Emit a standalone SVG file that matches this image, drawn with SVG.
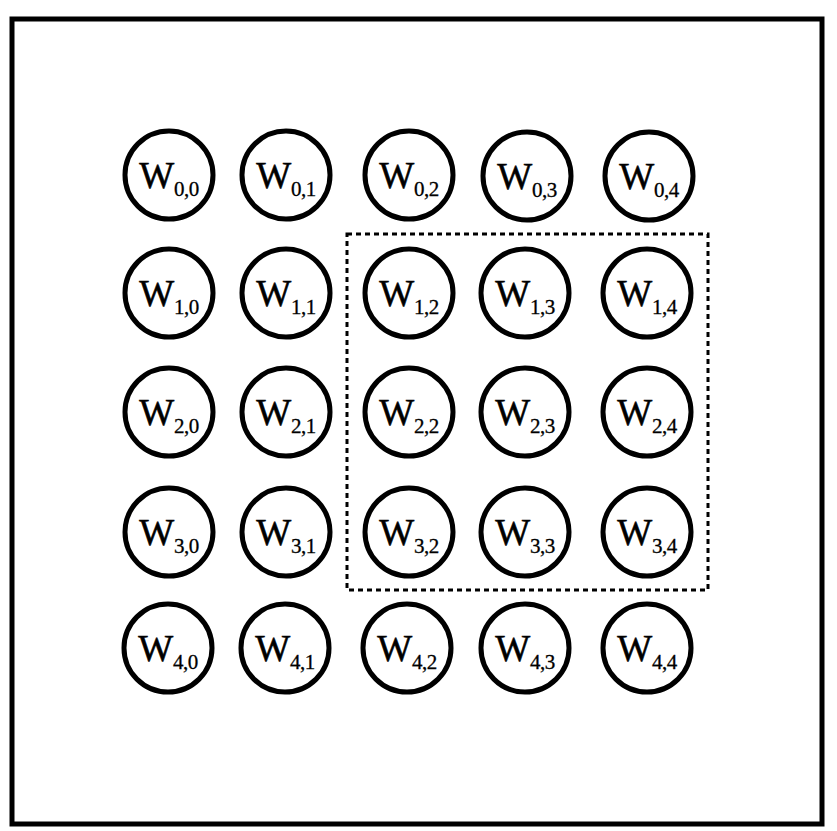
<svg xmlns="http://www.w3.org/2000/svg" width="837" height="831" viewBox="0 0 837 831">
<style>
.frame{fill:none;stroke:#000;stroke-width:5}
.sel{fill:none;stroke:#000;stroke-width:3;stroke-dasharray:5 4}
.node circle{fill:#fff;stroke:#000;stroke-width:5}
.node text{font-family:"Liberation Serif","Times New Roman",serif;font-size:37px;fill:#000;stroke:#000;stroke-width:0.6;text-anchor:middle}
.node tspan{font-size:21px;letter-spacing:-0.5px;stroke-width:0.3}
</style>
<rect width="837" height="831" fill="#fff"/>
<rect class="frame" x="12" y="19" width="810" height="805"/>
<g id="connectors"><rect class="sel" x="347" y="234" width="361" height="356"/></g>
<g id="n00" class="node"><circle cx="169" cy="175" r="44"/><text x="169" y="188">W<tspan dy="8">0,0</tspan></text></g>
<g id="n01" class="node"><circle cx="286" cy="175" r="44"/><text x="286" y="188">W<tspan dy="8">0,1</tspan></text></g>
<g id="n02" class="node"><circle cx="409" cy="175" r="44"/><text x="409" y="188">W<tspan dy="8">0,2</tspan></text></g>
<g id="n03" class="node"><circle cx="527" cy="176" r="44"/><text x="527" y="189">W<tspan dy="8">0,3</tspan></text></g>
<g id="n04" class="node"><circle cx="649" cy="176" r="44"/><text x="649" y="189">W<tspan dy="8">0,4</tspan></text></g>
<g id="n10" class="node"><circle cx="169" cy="293" r="44"/><text x="169" y="306">W<tspan dy="8">1,0</tspan></text></g>
<g id="n11" class="node"><circle cx="286" cy="293" r="44"/><text x="286" y="306">W<tspan dy="8">1,1</tspan></text></g>
<g id="n12" class="node"><circle cx="409" cy="293" r="44"/><text x="409" y="306">W<tspan dy="8">1,2</tspan></text></g>
<g id="n13" class="node"><circle cx="525" cy="293" r="44"/><text x="525" y="306">W<tspan dy="8">1,3</tspan></text></g>
<g id="n14" class="node"><circle cx="647" cy="293" r="44"/><text x="647" y="306">W<tspan dy="8">1,4</tspan></text></g>
<g id="n20" class="node"><circle cx="169" cy="412" r="44"/><text x="169" y="425">W<tspan dy="8">2,0</tspan></text></g>
<g id="n21" class="node"><circle cx="286" cy="412" r="44"/><text x="286" y="425">W<tspan dy="8">2,1</tspan></text></g>
<g id="n22" class="node"><circle cx="409" cy="412" r="44"/><text x="409" y="425">W<tspan dy="8">2,2</tspan></text></g>
<g id="n23" class="node"><circle cx="525" cy="412" r="44"/><text x="525" y="425">W<tspan dy="8">2,3</tspan></text></g>
<g id="n24" class="node"><circle cx="647" cy="412" r="44"/><text x="647" y="425">W<tspan dy="8">2,4</tspan></text></g>
<g id="n30" class="node"><circle cx="169" cy="532" r="44"/><text x="169" y="545">W<tspan dy="8">3,0</tspan></text></g>
<g id="n31" class="node"><circle cx="286" cy="532" r="44"/><text x="286" y="545">W<tspan dy="8">3,1</tspan></text></g>
<g id="n32" class="node"><circle cx="409" cy="532" r="44"/><text x="409" y="545">W<tspan dy="8">3,2</tspan></text></g>
<g id="n33" class="node"><circle cx="525" cy="532" r="44"/><text x="525" y="545">W<tspan dy="8">3,3</tspan></text></g>
<g id="n34" class="node"><circle cx="647" cy="532" r="44"/><text x="647" y="545">W<tspan dy="8">3,4</tspan></text></g>
<g id="n40" class="node"><circle cx="168" cy="648" r="44"/><text x="168" y="661">W<tspan dy="8">4,0</tspan></text></g>
<g id="n41" class="node"><circle cx="285" cy="648" r="44"/><text x="285" y="661">W<tspan dy="8">4,1</tspan></text></g>
<g id="n42" class="node"><circle cx="407" cy="648" r="44"/><text x="407" y="661">W<tspan dy="8">4,2</tspan></text></g>
<g id="n43" class="node"><circle cx="525" cy="648" r="44"/><text x="525" y="661">W<tspan dy="8">4,3</tspan></text></g>
<g id="n44" class="node"><circle cx="647" cy="648" r="44"/><text x="647" y="661">W<tspan dy="8">4,4</tspan></text></g>
</svg>
